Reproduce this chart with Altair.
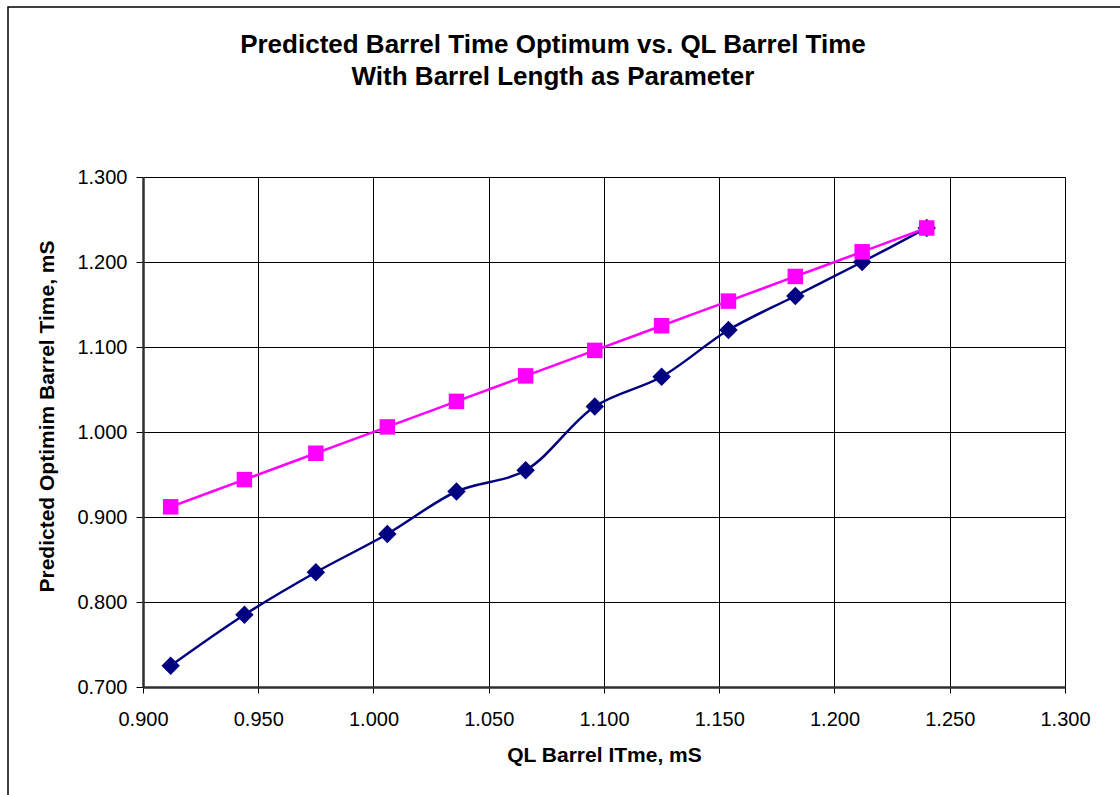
import altair as alt
import pandas as pd

# QL barrel time (mS) for each barrel length
ql_time = [0.912, 0.944, 0.975, 1.006, 1.036, 1.066, 1.096, 1.125, 1.154, 1.183, 1.212, 1.240]
# Predicted optimum barrel time (mS), two series
predicted_opt = [0.725, 0.785, 0.835, 0.880, 0.930, 0.955, 1.030, 1.065, 1.120, 1.160, 1.200, 1.240]
reference_line = [0.912, 0.944, 0.975, 1.006, 1.036, 1.066, 1.096, 1.125, 1.154, 1.183, 1.212, 1.240]

x_ticks = [0.90, 0.95, 1.00, 1.05, 1.10, 1.15, 1.20, 1.25, 1.30]
y_ticks = [0.70, 0.80, 0.90, 1.00, 1.10, 1.20, 1.30]

title_lines = ["Predicted Barrel Time Optimum vs. QL Barrel Time",
               "With Barrel Length as Parameter"]

df_opt = pd.DataFrame({"x": ql_time, "y": predicted_opt})
df_ref = pd.DataFrame({"x": ql_time, "y": reference_line})

FONT = "Liberation Sans"
W, H = 922, 510

x_enc = alt.X(
    "x:Q",
    scale=alt.Scale(domain=[0.9, 1.3], nice=False, zero=False),
    axis=alt.Axis(
        values=x_ticks, format=".3f", title="QL Barrel ITme, mS",
        titleFont=FONT, titleFontSize=21, titleFontWeight="bold", titleColor="black",
        titleY=68, titleBaseline="middle",
        labelFont=FONT, labelFontSize=20, labelColor="black", labelPadding=16,
        labelFlush=False,
        tickSize=6, tickColor="black", tickWidth=1,
        domainColor="#303030", domainWidth=2.5,
        grid=True, gridColor="black", gridWidth=1,
    ),
)
y_enc = alt.Y(
    "y:Q",
    scale=alt.Scale(domain=[0.7, 1.3], nice=False, zero=False),
    axis=alt.Axis(
        values=y_ticks, format=".3f", title="Predicted Optimim Barrel Time, mS",
        titleFont=FONT, titleFontSize=21, titleFontWeight="bold", titleColor="black",
        titleX=-96, titleY=239, titleAngle=-90, titleAlign="center", titleBaseline="middle",
        labelFont=FONT, labelFontSize=20, labelColor="black", labelPadding=9,
        labelFlush=False,
        tickSize=7, tickColor="black", tickWidth=1,
        domainColor="#303030", domainWidth=2.5,
        grid=True, gridColor="black", gridWidth=1,
    ),
)

# Outer chart frame
frame = alt.Chart(pd.DataFrame({"k": [0]})).mark_rect(
    fill=None, stroke="black", strokeWidth=1.5
).encode(
    x=alt.value(-135), x2=alt.value(W + 300),
    y=alt.value(-170), y2=alt.value(H + 300),
)


def heading_line(text, y_px):
    # one line of the two-line heading, centred over the chart area
    return alt.Chart(pd.DataFrame({"line": [text]})).mark_text(
        font=FONT, fontSize=26, fontWeight="bold", color="black",
        align="center", baseline="middle",
    ).encode(text="line:N", x=alt.value(410), y=alt.value(y_px))


heading1 = heading_line(title_lines[0], -132)
heading2 = heading_line(title_lines[1], -100)

opt_line = alt.Chart(df_opt).mark_line(
    color="#000080", strokeWidth=2.5, interpolate="catmull-rom"
).encode(x=x_enc, y=y_enc)
opt_pts = alt.Chart(df_opt).mark_point(
    shape="diamond", filled=True, size=340, color="#000080", opacity=1
).encode(x="x:Q", y="y:Q")

ref_line = alt.Chart(df_ref).mark_line(
    color="#FF00FF", strokeWidth=2.5, interpolate="catmull-rom"
).encode(x="x:Q", y="y:Q")
ref_pts = alt.Chart(df_ref).mark_point(
    shape="square", filled=True, size=240, color="#FF00FF", opacity=1
).encode(x="x:Q", y="y:Q")

chart = alt.layer(
    frame, heading1, heading2, opt_line, opt_pts, ref_line, ref_pts
).properties(
    width=W,
    height=H,
    autosize=alt.AutoSizeParams(type="none"),
    padding={"left": 143, "top": 177, "right": 55, "bottom": 108},
).configure_view(
    fill="#C0C0C0", stroke="#808080", strokeWidth=2.5
).configure(background="white")

chart.save("out.html", embed_options={"renderer": "svg", "actions": False})
